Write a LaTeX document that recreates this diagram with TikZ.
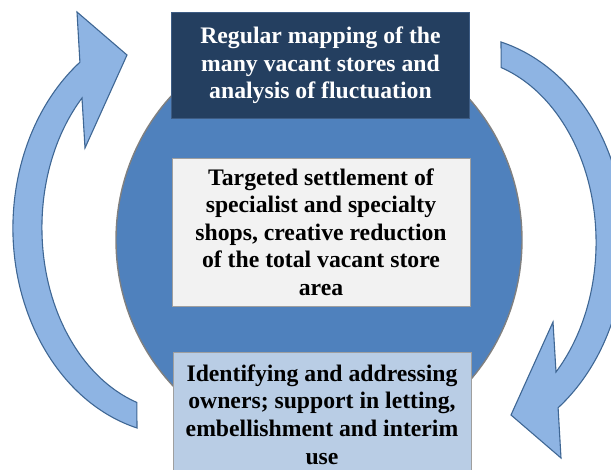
\documentclass[tikz,border=0pt]{standalone}
\usepackage{fontspec}
\setmainfont{Liberation Serif}
\usetikzlibrary{shapes.geometric}
\definecolor{arrowfill}{HTML}{8EB4E3}
\definecolor{arrowline}{HTML}{3F6794}
\definecolor{corefill}{HTML}{4F81BD}
\definecolor{navyfill}{HTML}{243F60}
\definecolor{navyline}{HTML}{3D5C84}
\definecolor{palefill}{HTML}{F2F2F2}
\definecolor{skyfill}{HTML}{B9CDE5}
\tikzset{
  turn/.style={fill=arrowfill,draw=arrowline,line width=1.1pt,line join=miter},
  stage/.style={rectangle,draw=gray!75,line width=0.9pt,align=center,
    inner sep=0pt,minimum width=298pt,
    font=\fontsize{23.7}{27.6}\selectfont\bfseries}
}
\begin{document}
\begin{tikzpicture}[x=1pt,y=-1pt]
\useasboundingbox (0,0) rectangle (611,470);
\clip (0,0) rectangle (611,470);
%
\node[ellipse,draw=gray,fill=corefill,line width=1.4pt,
  minimum width=406pt,minimum height=420pt] (core) at (319,240) {};
%
\draw[turn] (137,428) arc[start angle=104.9,end angle=233.2,x radius=167,y radius=207]
  -- (77,12) -- (127,55) -- (85,148) -- (82,98)
  arc[start angle=224.8,end angle=108.2,x radius=138,y radius=184] -- cycle;
\draw[turn] (501,42) arc[start angle=-75.1,end angle=53.2,x radius=167,y radius=207]
  -- (561,458) -- (511,415) -- (553,322) -- (556,372)
  arc[start angle=44.8,end angle=-71.8,x radius=138,y radius=184] -- cycle;
%
\node[stage,fill=navyfill,draw=navyline,text=white,minimum height=106pt]
  (mapping) at (320.5,65.5) {Regular mapping of the\\many vacant stores and\\analysis of fluctuation};
\node[stage,fill=palefill,minimum height=148pt]
  (settle) at (321,232) {Targeted settlement of\\specialist and specialty\\shops, creative reduction\\of the total vacant store\\area};
\node[stage,fill=skyfill,minimum height=124pt]
  (owners) at (322,414.5) {Identifying and addressing\\owners; support in letting,\\embellishment and interim\\use};
\end{tikzpicture}
\end{document}
